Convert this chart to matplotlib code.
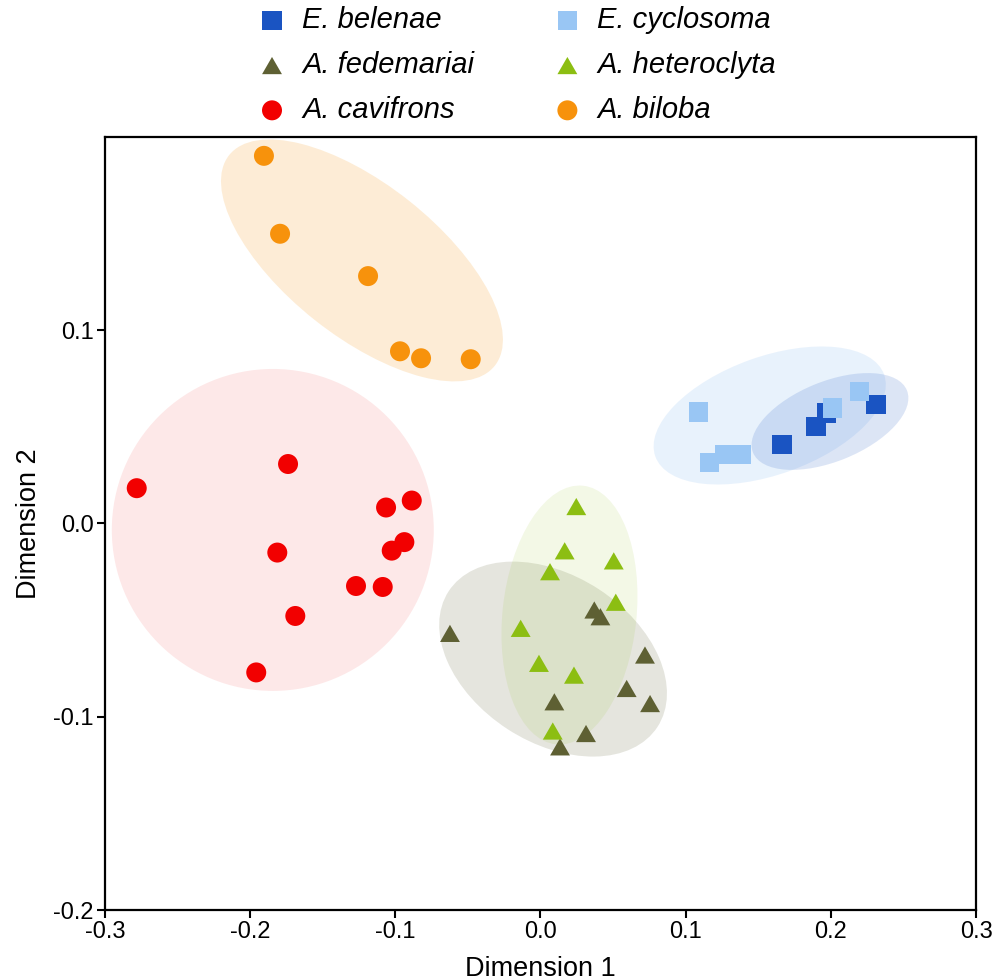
import numpy as np
import matplotlib
matplotlib.use("Agg")
import matplotlib.pyplot as plt
from matplotlib.patches import Ellipse
from matplotlib.transforms import ScaledTranslation

plt.rcParams['font.family'] = ['Liberation Sans', 'DejaVu Sans']

# species, in legend reading order
species = ['E. belenae', 'E. cyclosoma', 'A. fedemariai',
           'A. heteroclyta', 'A. cavifrons', 'A. biloba']

belenae_x = [0.1664, 0.1898, 0.1969, 0.2311]
belenae_y = [0.0407, 0.0502, 0.0571, 0.0614]

cyclosoma_x = [0.1087, 0.1163, 0.1269, 0.1382, 0.2009, 0.2196]
cyclosoma_y = [0.0576, 0.0315, 0.0355, 0.0355, 0.0597, 0.0683]

fedemariai_x = [-0.0623, 0.0371, 0.0413, 0.0720, 0.0594, 0.0755, 0.0096, 0.0314, 0.0135]
fedemariai_y = [-0.0569, -0.0448, -0.0483, -0.0681, -0.0854, -0.0932, -0.0923, -0.1087, -0.1156]

heteroclyta_x = [0.0247, 0.0167, 0.0505, 0.0066, 0.0519, -0.0136, -0.0010, 0.0231, 0.0085]
heteroclyta_y = [0.0087, -0.0142, -0.0194, -0.0250, -0.0408, -0.0543, -0.0724, -0.0785, -0.1074]

cavifrons_x = [-0.1738, -0.2780, -0.1063, -0.0886, -0.0937, -0.1024,
               -0.1812, -0.1270, -0.1086, -0.1688, -0.1957]
cavifrons_y = [0.0307, 0.0182, 0.0082, 0.0118, -0.0097, -0.0141,
               -0.0151, -0.0324, -0.0329, -0.0479, -0.0771]

biloba_x = [-0.1904, -0.1793, -0.1187, -0.0967, -0.0822, -0.0480]
biloba_y = [0.1901, 0.1498, 0.1279, 0.0890, 0.0854, 0.0849]

# group ellipses: centre (data), width/height (px), angle (deg)
ell_center = {'E. belenae': (0.1994, 0.0527), 'E. cyclosoma': (0.1579, 0.0558),
              'A. fedemariai': (0.0087, -0.0702), 'A. heteroclyta': (0.0200, -0.0474),
              'A. cavifrons': (-0.1843, -0.0034), 'A. biloba': (-0.1229, 0.1360)}
ell_size = {'E. belenae': (166, 80, 22), 'E. cyclosoma': (243, 118, 19.7),
            'A. fedemariai': (249, 167, -33), 'A. heteroclyta': (134, 260, -6),
            'A. cavifrons': (322, 322, 0), 'A. biloba': (339, 152, -38.4)}

pts = {'E. belenae': (belenae_x, belenae_y), 'E. cyclosoma': (cyclosoma_x, cyclosoma_y),
       'A. fedemariai': (fedemariai_x, fedemariai_y), 'A. heteroclyta': (heteroclyta_x, heteroclyta_y),
       'A. cavifrons': (cavifrons_x, cavifrons_y), 'A. biloba': (biloba_x, biloba_y)}

tri = [(-1, -0.866), (1, -0.866), (0, 0.866)]
style = {'E. belenae': ('#1A54C2', 's', 190, 0.15),
         'E. cyclosoma': ('#99C6F4', 's', 190, 0.22),
         'A. fedemariai': ('#5E6033', tri, 205, 0.16),
         'A. heteroclyta': ('#8CBE12', tri, 205, 0.10),
         'A. cavifrons': ('#F20000', 'o', 207, 0.09),
         'A. biloba': ('#F7920C', 'o', 207, 0.17)}

fig = plt.figure(figsize=(9.97, 9.8), dpi=100)
ax = fig.add_axes([0.1051, 0.0714, 0.979 - 0.1051, 0.8605 - 0.0714])

draw_order = ['E. cyclosoma', 'E. belenae', 'A. fedemariai', 'A. heteroclyta', 'A. cavifrons', 'A. biloba']
for sp in draw_order:
    cx, cy = ell_center[sp]
    w, h, ang = ell_size[sp]
    col, mk, s, a = style[sp]
    tr = fig.dpi_scale_trans + ScaledTranslation(cx, cy, ax.transData)
    ax.add_patch(Ellipse((0, 0), w / 100, h / 100, angle=ang, transform=tr,
                         facecolor=col, alpha=a, edgecolor='none', zorder=1))

handles = {}
for sp in species:
    col, mk, s, a = style[sp]
    x, y = pts[sp]
    handles[sp] = ax.scatter(x, y, s=s, marker=mk, color=col, edgecolors='none',
                             zorder=3, label=sp)

ax.set_xlim(-0.3, 0.3)
ax.set_ylim(-0.2, 0.2)
ax.set_xticks([-0.3, -0.2, -0.1, 0.0, 0.1, 0.2, 0.3])
ax.set_xticklabels(['-0.3', '-0.2', '-0.1', '0.0', '0.1', '0.2', '0.3'])
ax.set_yticks([-0.2, -0.1, 0.0, 0.1])
ax.set_yticklabels(['-0.2', '-0.1', '0.0', '0.1'])
ax.tick_params(direction='out', length=6, width=1.5, labelsize=17, pad=2)
for sp in ax.spines.values():
    sp.set_linewidth(1.6)
ax.set_xlabel('Dimension 1', fontsize=19.5, labelpad=9)
ax.set_ylabel('Dimension 2', fontsize=19.5, labelpad=8)

leg_order = ['E. belenae', 'A. fedemariai', 'A. cavifrons',
             'E. cyclosoma', 'A. heteroclyta', 'A. biloba']
fig.legend([handles[k] for k in leg_order], leg_order, ncol=2, frameon=False,
           loc='upper left', bbox_to_anchor=(0.2582, 0.9964), borderaxespad=0,
           prop={'style': 'italic', 'size': 21}, markerscale=1.0,
           handlelength=0.8, handletextpad=0.63, columnspacing=2.8,
           labelspacing=0.575, borderpad=0.1)

fig.savefig('out.png', dpi=100)
